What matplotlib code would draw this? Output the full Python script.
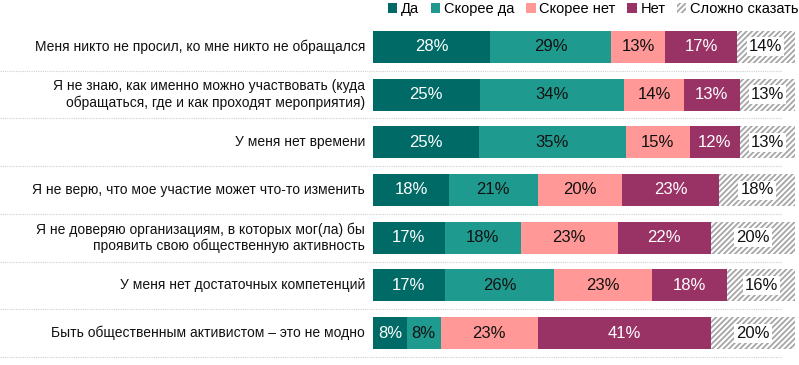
import matplotlib
matplotlib.use("Agg")
import matplotlib.pyplot as plt
from matplotlib.transforms import blended_transform_factory
from matplotlib.lines import Line2D
from matplotlib.patches import Patch

plt.rcParams['font.family'] = ['Liberation Sans', 'DejaVu Sans']
plt.rcParams['hatch.color'] = '#A6A6A6'
plt.rcParams['hatch.linewidth'] = 1.3

categories = [
    "Меня никто не просил, ко мне никто не обращался",
    "Я не знаю, как именно можно участвовать (куда\nобращаться, где и как проходят мероприятия)",
    "У меня нет времени",
    "Я не верю, что мое участие может что-то изменить",
    "Я не доверяю организациям, в которых мог(ла) бы\nпроявить свою общественную активность",
    "У меня нет достаточных компетенций",
    "Быть общественным активистом – это не модно",
]
series_names = ["Да", "Скорее да", "Скорее нет", "Нет", "Сложно сказать"]
da          = [28, 25, 25, 18, 17, 17, 8]
skoree_da   = [29, 34, 35, 21, 18, 26, 8]
skoree_net  = [13, 14, 15, 20, 23, 23, 23]
net         = [17, 13, 12, 23, 22, 18, 41]
slozhno     = [14, 13, 13, 18, 20, 16, 20]

series = [da, skoree_da, skoree_net, net, slozhno]
colors = ["#006B66", "#1F9A8F", "#FF9896", "#993366", "white"]
text_colors = ["white", "#111111", "#111111", "white", "#111111"]

fig = plt.figure(figsize=(7.99, 3.65), dpi=100)
ax = fig.add_axes([373/799, 8/365, 422/799, 334/365])

n = len(categories)
ys = list(range(n))
totals = [sum(s[i] for s in series) for i in range(n)]
left = [0.0] * n
for k, (vals, col) in enumerate(zip(series, colors)):
    widths = [v / totals[i] * 100 for i, v in enumerate(vals)]
    if k == 4:
        ax.barh(ys, widths, left=left, height=0.67, color='white',
                edgecolor='#A6A6A6', hatch='//////', linewidth=0)
    else:
        ax.barh(ys, widths, left=left, height=0.67, color=col, linewidth=0)
    for i in range(n):
        cx = left[i] + widths[i] / 2
        if k == 4:
            ax.text(cx, ys[i], f"{vals[i]}%", ha='center', va='center',
                    fontsize=12, color=text_colors[k],
                    bbox=dict(facecolor='white', edgecolor='none', pad=1.5))
        else:
            ax.text(cx, ys[i], f"{vals[i]}%", ha='center', va='center',
                    fontsize=12, color=text_colors[k])
    left = [l + w for l, w in zip(left, widths)]

ax.set_xlim(0, 100)
ax.set_ylim(n - 0.5, -0.5)
ax.axis('off')

# category labels
for i, c in enumerate(categories):
    ax.text(-8/422*100, ys[i], c, ha='right', va='center', fontsize=10,
            color='#111111', linespacing=1.2)

# dotted separators
tr = blended_transform_factory(fig.transFigure, ax.transData)
for i in range(n):
    fig.add_artist(Line2D([0, 782/799], [i + 0.5, i + 0.5], transform=tr,
                          color='#D0D0D0', linewidth=0.8, linestyle=(0, (1, 1))))

# legend
handles = []
for name, col in zip(series_names, colors):
    if col == 'white':
        handles.append(Patch(facecolor='white', edgecolor='#A6A6A6', hatch='//////', linewidth=0, label=name))
    else:
        handles.append(Patch(facecolor=col, edgecolor='none', label=name))
fig.legend(handles=handles, loc='upper left', bbox_to_anchor=(388/799, 363/365),
           ncol=5, frameon=False, fontsize=10.5, handlelength=0.65, handleheight=0.65,
           handletextpad=0.25, columnspacing=0.8, borderpad=0.0, borderaxespad=0.0)

fig.savefig("out.png", dpi=100)
